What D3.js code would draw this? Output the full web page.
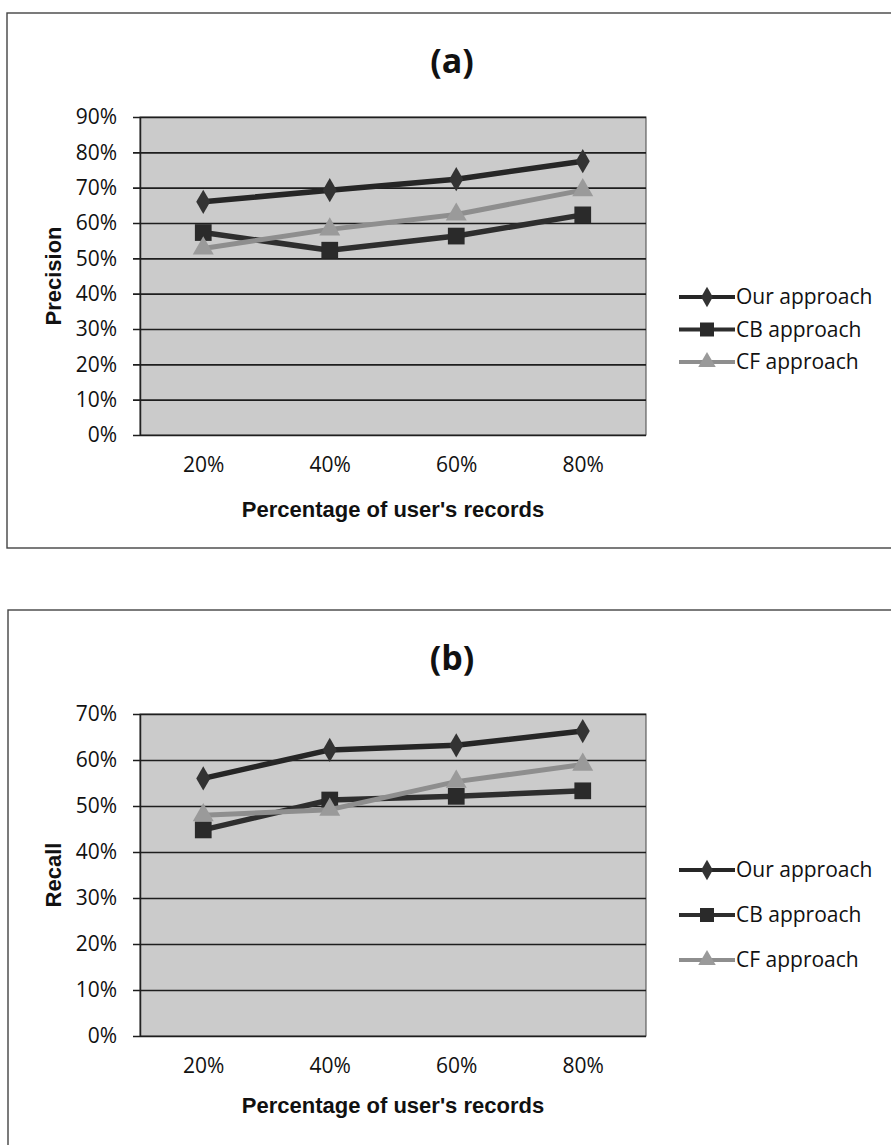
<!DOCTYPE html>
<html>
<head>
<meta charset="utf-8">
<script src="https://cdn.jsdelivr.net/npm/d3@7"></script>
<style>
  body { margin: 0; background: #fff; }
  svg { display: block; }
  .tick-label { font-family: 'Open Sans', sans-serif; font-size: 21px; fill: #111; }
  .axis-title { font-family: 'Liberation Sans', Arial, sans-serif; font-weight: bold; font-size: 22px; fill: #111; }
  .panel-title { font-family: 'Open Sans', sans-serif; font-weight: bold; font-size: 34px; fill: #111; }
  .legend-label { font-family: 'Open Sans', sans-serif; font-size: 21px; fill: #111; }
</style>
</head>
<body>
<svg id="chart"></svg>
<script>
// x categories (share of the user's records used)
const categories = ['20%', '40%', '60%', '80%'];
const seriesNames = ['Our approach', 'CB approach', 'CF approach'];

// (a) precision, in percent
const precisionOur = [66, 69.3, 72.4, 77.5];
const precisionCB = [57.3, 52.3, 56.3, 62.3];
const precisionCF = [52.8, 58.2, 62.4, 69.3];
const precisionTicks = [0, 10, 20, 30, 40, 50, 60, 70, 80, 90];

// (b) recall, in percent
const recallOur = [56, 62.2, 63.2, 66.3];
const recallCB = [44.8, 51.3, 52.1, 53.3];
const recallCF = [48, 49.2, 55.3, 59];
const recallTicks = [0, 10, 20, 30, 40, 50, 60, 70];

// styling per series: line colour, width, marker
const seriesStyle = [
  { color: '#262626', width: 5.5, marker: d3.symbolDiamond, size: 170, fill: '#333' },
  { color: '#2e2e2e', width: 5.5, marker: d3.symbolSquare, size: 280, fill: '#2a2a2a' },
  { color: '#8e8e8e', width: 5, marker: d3.symbolTriangle, size: 190, fill: '#9a9a9a' }
];

const svg = d3.select('#chart')
  .attr('width', 891)
  .attr('height', 1145);

class LinePanel {
  constructor(_config, _series, _ticks) {
    this.config = _config;
    this.series = _series;
    this.ticks = _ticks;
    this.initVis();
  }

  initVis() {
    let vis = this;
    const c = vis.config;

    vis.g = svg.append('g');

    // panel frame (right / bottom edges run off the page like the scan)
    vis.g.append('rect')
      .attr('x', c.frame.x)
      .attr('y', c.frame.y)
      .attr('width', c.frame.w)
      .attr('height', c.frame.h)
      .attr('fill', 'none')
      .attr('stroke', '#444')
      .attr('stroke-width', 1.4);

    vis.g.append('text')
      .attr('class', 'panel-title')
      .attr('x', 452)
      .attr('y', c.frame.y + 60)
      .attr('text-anchor', 'middle')
      .text(c.title);

    vis.xScale = d3.scalePoint()
      .domain(categories)
      .range([c.left, c.right])
      .padding(0.5);

    vis.yScale = d3.scaleLinear()
      .domain([0, d3.max(vis.ticks)])
      .range([c.bottom, c.top]);

    // grey plot background
    vis.g.append('rect')
      .attr('x', c.left)
      .attr('y', c.top)
      .attr('width', c.right - c.left)
      .attr('height', c.bottom - c.top)
      .attr('fill', '#cbcbcb')
      .attr('stroke', '#444')
      .attr('stroke-width', 1);

    // y axis with gridlines
    const yAxis = d3.axisLeft(vis.yScale)
      .tickValues(vis.ticks)
      .tickSize(-(c.right - c.left))
      .tickSizeOuter(0)
      .tickPadding(23)
      .tickFormat(d => d + '%');

    const yg = vis.g.append('g')
      .attr('transform', `translate(${c.left},0)`)
      .call(yAxis);
    yg.select('.domain').attr('stroke', '#222').attr('stroke-width', 1.5);
    yg.selectAll('.tick line')
      .attr('x1', -7)
      .attr('stroke', '#1e1e1e')
      .attr('stroke-width', 1.6);
    yg.selectAll('.tick text')
      .attr('class', 'tick-label')
      .attr('font-size', null)
      .attr('font-family', null);

    // x axis: labels only
    const xAxis = d3.axisBottom(vis.xScale)
      .tickSize(0)
      .tickPadding(c.xPad);
    const xg = vis.g.append('g')
      .attr('transform', `translate(0,${c.bottom})`)
      .call(xAxis);
    xg.select('.domain').remove();
    xg.selectAll('.tick text')
      .attr('class', 'tick-label')
      .attr('font-size', null)
      .attr('font-family', null);

    vis.g.append('text')
      .attr('class', 'axis-title')
      .attr('x', (c.left + c.right) / 2)
      .attr('y', c.bottom + c.xTitleOffset)
      .attr('text-anchor', 'middle')
      .text("Percentage of user's records");

    vis.g.append('text')
      .attr('class', 'axis-title')
      .attr('transform', `translate(61,${(c.top + c.bottom) / 2}) rotate(-90)`)
      .attr('text-anchor', 'middle')
      .text(c.yTitle);

    vis.renderVis();
    vis.renderLegend();
  }

  renderVis() {
    let vis = this;

    const line = d3.line()
      .x((d, i) => vis.xScale(categories[i]))
      .y(d => vis.yScale(d));

    vis.series.forEach((values, k) => {
      const s = seriesStyle[k];
      vis.g.append('path')
        .datum(values)
        .attr('fill', 'none')
        .attr('stroke', s.color)
        .attr('stroke-width', s.width)
        .attr('stroke-linejoin', 'round')
        .attr('d', line);

      vis.g.selectAll('.mk' + k)
        .data(values)
        .enter().append('path')
        .attr('class', 'mk' + k)
        .attr('transform', (d, i) => `translate(${vis.xScale(categories[i])},${vis.yScale(d)})`)
        .attr('d', d3.symbol().type(s.marker).size(s.size))
        .attr('fill', s.fill);
    });
  }

  renderLegend() {
    let vis = this;
    const c = vis.config;

    const items = vis.g.selectAll('.legend-item')
      .data(seriesNames)
      .enter().append('g')
      .attr('class', 'legend-item')
      .attr('transform', (d, i) => `translate(679,${c.legendTop + i * c.legendGap})`);

    items.append('line')
      .attr('x1', 0)
      .attr('x2', 56)
      .attr('stroke', (d, i) => seriesStyle[i].color)
      .attr('stroke-width', 4);

    items.append('path')
      .attr('transform', 'translate(28,0)')
      .attr('d', (d, i) => d3.symbol().type(seriesStyle[i].marker).size(seriesStyle[i].size * 0.7)())
      .attr('fill', (d, i) => seriesStyle[i].fill);

    items.append('text')
      .attr('class', 'legend-label')
      .attr('x', 57)
      .attr('dy', '0.35em')
      .text(d => d);
  }
}

new LinePanel({
  title: '(a)', yTitle: 'Precision',
  frame: { x: 7, y: 13, w: 900, h: 535 },
  left: 140, right: 646, top: 117, bottom: 435,
  xPad: 22, xTitleOffset: 82,
  legendTop: 297, legendGap: 32.5
}, [precisionOur, precisionCB, precisionCF], precisionTicks);

new LinePanel({
  title: '(b)', yTitle: 'Recall',
  frame: { x: 8, y: 610, w: 900, h: 560 },
  left: 140, right: 646, top: 714, bottom: 1036,
  xPad: 22, xTitleOffset: 77,
  legendTop: 870, legendGap: 45
}, [recallOur, recallCB, recallCF], recallTicks);
</script>
</body>
</html>
